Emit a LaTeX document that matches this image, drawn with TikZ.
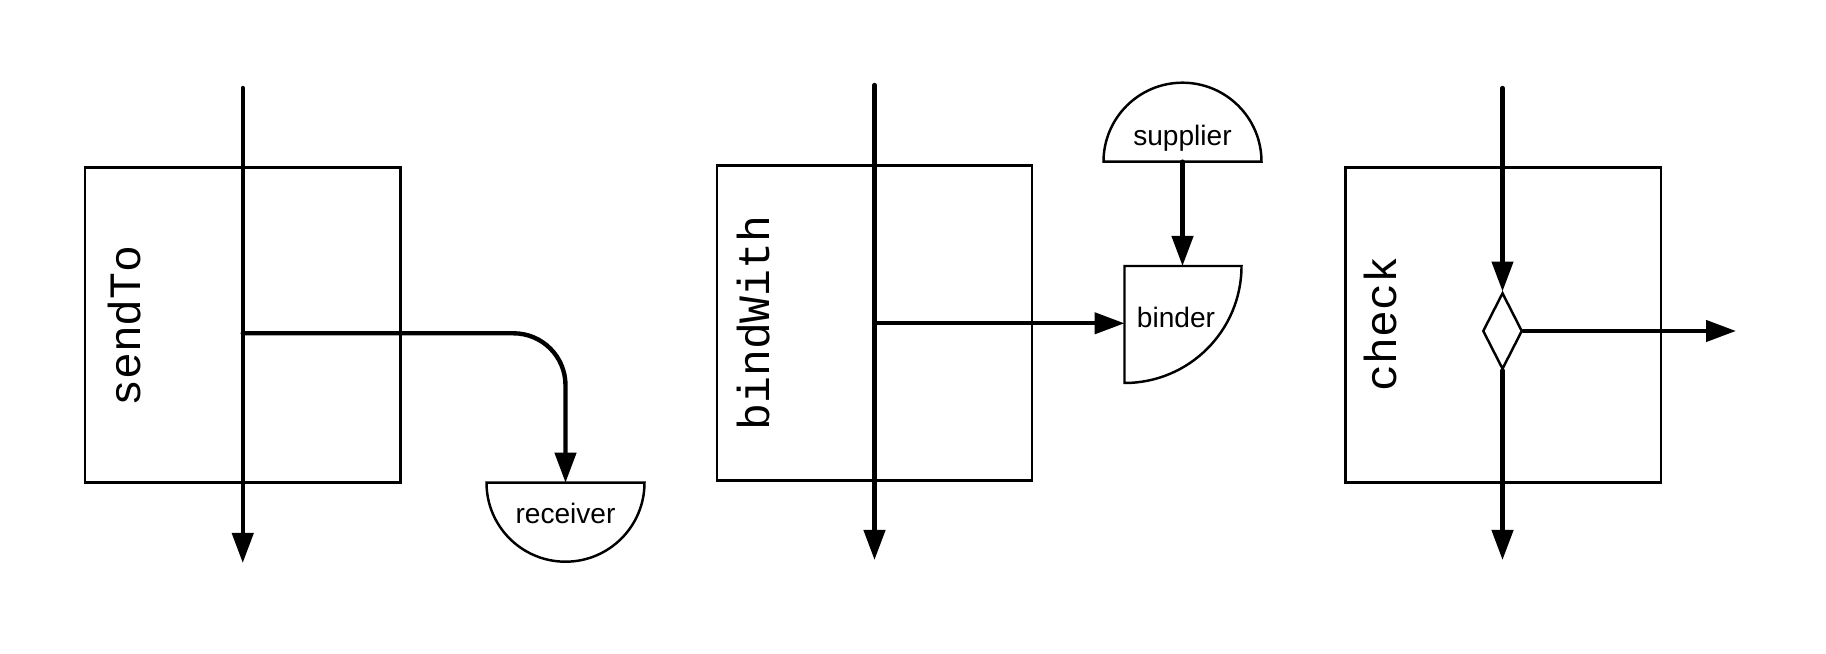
\documentclass[tikz,border=0pt]{standalone}
\usepackage{fontspec}
\setmainfont{Liberation Sans}
\newfontfamily\codefont{Liberation Mono}
\usetikzlibrary{arrows.meta,shapes.geometric}

\begin{document}
\begin{tikzpicture}[line join=miter]
        \tikzset{
          opbox/.style={draw, line width=1.4pt, minimum width=6.31cm, minimum height=6.3cm},
          oplabel/.style={rotate=90, font=\codefont\fontsize{25.5}{28}\selectfont},
          flow/.style={line width=2.5pt, line cap=round, -{Triangle[length=0.6cm,width=0.42cm]}},
          port/.style={draw, line width=1.4pt},
          portlabel/.style={font=\fontsize{16}{18}\selectfont},
        }
        \useasboundingbox (0,0) rectangle (36.52,13.08);
        % sendTo
        \node [opbox] (sendbox) at (4.855,6.584) {};
        \node [oplabel] (sendlbl) at (2.5,6.56) {sendTo};
        \coordinate (sendin) at (4.855,11.32);
        \coordinate (sendout) at (4.855,1.82);
        \coordinate (sendsplit) at (4.855,6.414);
        \draw [port] (9.73,3.426) -- (12.89,3.426) arc[start angle=0, end angle=-180, radius=1.58cm] -- cycle;
        \coordinate (recvtop) at (11.31,3.426);
        \node [portlabel] (recv) at (11.31,2.82) {receiver};
        \draw [flow] (sendin) -- (sendout);
        \draw [flow, rounded corners=1.04cm] (sendsplit) -- (sendsplit -| recvtop) -- (recvtop);
        % bindWith
        \node [opbox] (bindbox) at (17.49,6.62) {};
        \node [oplabel] (bindlbl) at (15.07,6.62) {bindWith};
        \coordinate (bindin) at (17.49,11.38);
        \coordinate (bindout) at (17.49,1.88);
        \coordinate (bindsplit) at (17.49,6.614);
        \draw [port] (22.07,9.846) -- (25.23,9.846) arc[start angle=0, end angle=180, radius=1.58cm] -- cycle;
        \coordinate (supbot) at (23.65,9.846);
        \node [portlabel] (sup) at (23.65,10.32) {supplier};
        \draw [port] (22.49,7.76) -- (24.83,7.76) arc[start angle=0, end angle=-90, radius=2.34cm] -- cycle;
        \coordinate (bindertop) at (23.65,7.76);
        \coordinate (binderleft) at (22.49,6.614);
        \node [portlabel] (binder) at (23.52,6.74) {binder};
        \draw [flow] (bindin) -- (bindout);
        \draw [flow] (bindsplit) -- (binderleft);
        \draw [flow] (supbot) -- (bindertop);
        % check
        \node [opbox] (checkbox) at (30.06,6.584) {};
        \node [oplabel] (checklbl) at (27.6,6.6) {check};
        \node [diamond, draw, line width=1.4pt, inner sep=0pt, minimum width=0.79cm, minimum height=1.53cm] (test) at (30.05,6.46) {};
        \coordinate (checkin) at (30.05,11.32);
        \coordinate (checkout) at (30.05,1.88);
        \coordinate (checkfail) at (34.72,6.46);
        \draw [flow] (checkin) -- (test.north);
        \draw [flow] (test.south) -- (checkout);
        \draw [flow] (test.east) -- (checkfail);
\end{tikzpicture}
\end{document}
